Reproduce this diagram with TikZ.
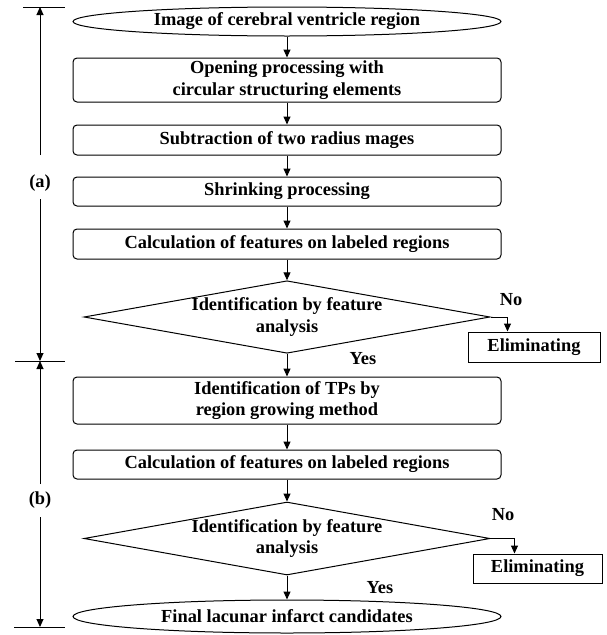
\documentclass[tikz,border=0pt]{standalone}
\usepackage{fontspec}
\setmainfont{Liberation Serif}
\usetikzlibrary{shapes.geometric,arrows.meta}
\begin{document}
\begin{tikzpicture}[x=1pt,y=-1pt,
  every node/.style={font=\fontsize{18.4}{21.5}\selectfont\bfseries, inner sep=0pt, align=center},
  flowbox/.style={draw, line width=1pt, rounded corners=4pt, minimum width=428pt},
  plainbox/.style={draw, line width=1pt},
  oval/.style={draw, line width=1pt, ellipse, minimum width=428pt},
  decision/.style={draw, line width=1pt, diamond, aspect=5.6, minimum width=406pt},
  arr/.style={line width=1pt, -{Triangle[length=8pt,width=7pt]}},
  tick/.style={line width=1pt}]
\useasboundingbox (0,0) rectangle (607,635);

% main flow
\node[oval, minimum height=29pt] (start) at (287,21.5) {Image of cerebral ventricle region};
\node[flowbox, minimum height=44pt] (open) at (287,80) {Opening processing with\\circular structuring elements};
\node[flowbox, minimum height=30pt] (sub) at (287,140) {Subtraction of two radius mages};
\node[flowbox, minimum height=29pt] (shrink) at (287,191.5) {Shrinking processing};
\node[flowbox, minimum height=30pt] (calc1) at (287,244) {Calculation of features on labeled regions};
\node[decision, minimum height=72pt] (dec1) at (287,317) {Identification by feature\\analysis};
\node[plainbox, minimum width=132pt, minimum height=30pt] (elim1) at (534,347) {Eliminating};
\node[flowbox, minimum height=47pt] (tps) at (287,400.5) {Identification of TPs by\\region growing method};
\node[flowbox, minimum height=29pt] (calc2) at (287,464.5) {Calculation of features on labeled regions};
\node[decision, minimum height=73pt] (dec2) at (287,538.5) {Identification by feature\\analysis};
\node[plainbox, minimum width=129pt, minimum height=29pt] (elim2) at (537.5,568.5) {Eliminating};
\node[oval, minimum height=33pt] (final) at (287,616.5) {Final lacunar infarct candidates};

\draw[arr] (start) -- (open);
\draw[arr] (open) -- (sub);
\draw[arr] (sub) -- (shrink);
\draw[arr] (shrink) -- (calc1);
\draw[arr] (calc1) -- (dec1);
\draw[arr] (dec1) -- (tps);
\draw[arr] (tps) -- (calc2);
\draw[arr] (calc2) -- (dec2);
\draw[arr] (dec2) -- (final);
\draw[arr] (dec1.east) -| ([xshift=40pt]elim1.north west);
\draw[arr] (dec2.east) -| ([xshift=42pt]elim2.north west);

\node (no1) at (511,300) {No};
\node (yes1) at (363,359) {Yes};
\node (no2) at (503,515) {No};
\node (yes2) at (380,588) {Yes};

% stage brackets on the left
\coordinate (ta) at (23,7);   \coordinate (tb) at (65,7);
\coordinate (ma) at (15,361); \coordinate (mb) at (65,361);
\coordinate (ba) at (14,627); \coordinate (bb) at (65,627);
\draw[tick] (ta) -- (tb);
\draw[tick] (ma) -- (mb);
\draw[tick] (ba) -- (bb);
\node (la) at (40,183) {(a)};
\node (lb) at (40,500) {(b)};
\coordinate (a1) at (40,155);
\coordinate (a2) at (40,199);
\coordinate (b1) at (40,484);
\coordinate (b2) at (40,517);
\draw[arr] (a1) -- (40,7);
\draw[arr] (a2) -- (40,361);
\draw[arr] (b1) -- (40,361);
\draw[arr] (b2) -- (40,627);
\end{tikzpicture}
\end{document}
